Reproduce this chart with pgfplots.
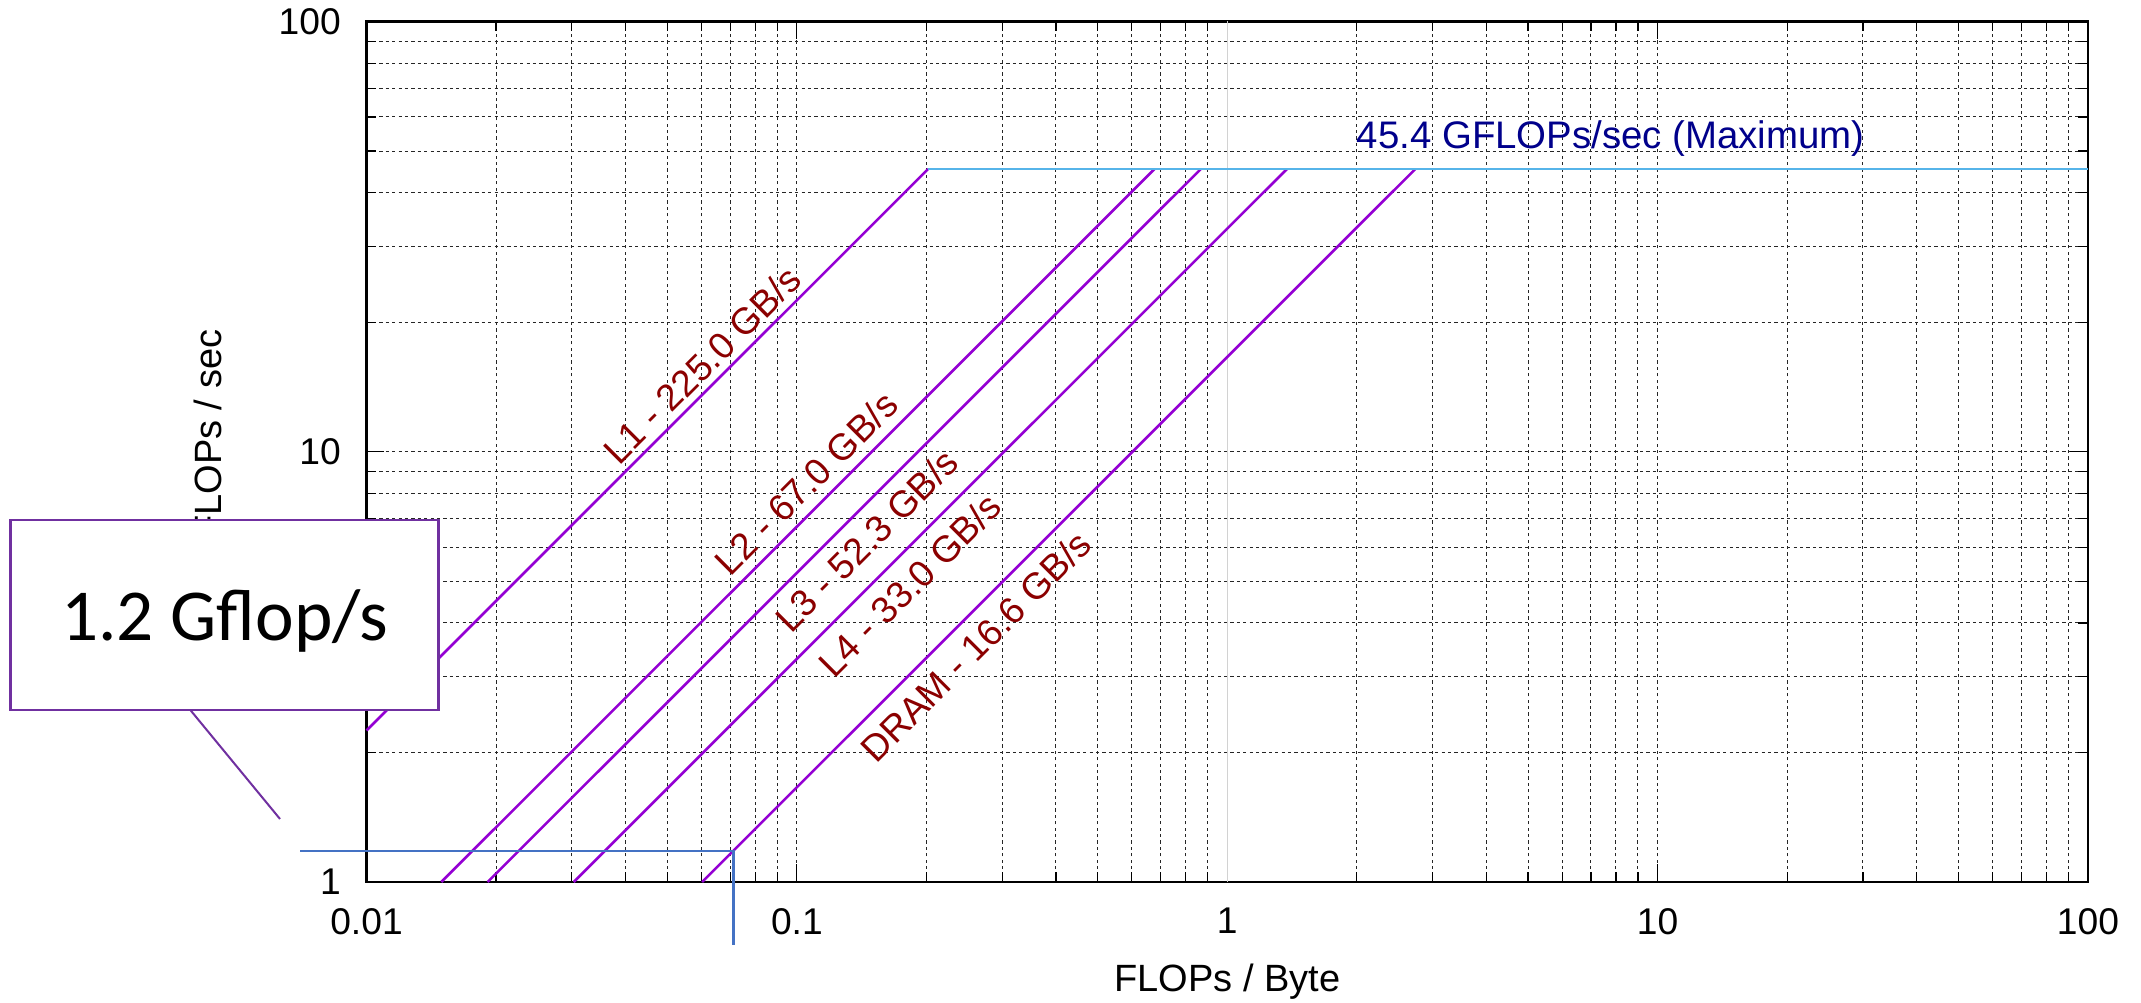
\documentclass[border=0pt]{standalone}
\usepackage{pgfplots}
\pgfplotsset{compat=1.18}
\usepackage{fontspec}
\setmainfont{Liberation Sans}
\newfontfamily\calibri{Carlito}
\definecolor{roof}{HTML}{9400D3}
\definecolor{peak}{HTML}{56B4E9}
\definecolor{lab}{HTML}{8B0000}
\definecolor{peaklab}{HTML}{00008B}
\definecolor{callout}{HTML}{7030A0}
\definecolor{probe}{HTML}{4472C4}
\newcommand{\lblfont}{\fontsize{9.3}{11}\selectfont}
\begin{document}
\begin{tikzpicture}
\begin{axis}[
  xmode=log, ymode=log,
  width=430.375pt, height=215.125pt, scale only axis,
  xmin=0.01, xmax=100, ymin=1, ymax=100,
  xtick={0.01,0.1,1,10,100}, xticklabels={0.01,0.1,1,10,100},
  ytick={1,10,100}, yticklabels={1,10,100},
  minor xtick={0.02,0.03,0.04,0.05,0.06,0.07,0.08,0.09,0.2,0.3,0.4,0.5,0.6,0.7,0.8,0.9,2,3,4,5,6,7,8,9,20,30,40,50,60,70,80,90},
  minor ytick={2,3,4,5,6,7,8,9,20,30,40,50,60,70,80,90},
  grid=both,
  major grid style={black!85, line width=0.25pt, dash pattern=on 0.8pt off 0.8pt},
  minor grid style={black!85, line width=0.25pt, dash pattern=on 0.8pt off 0.8pt},
  tick align=inside,
  major tick length=4.5pt, minor tick length=2.5pt,
  every tick/.style={black, line width=0.3pt},
  axis line style={line width=0.6pt},
  xticklabel style={font=\lblfont, yshift=-3pt},
  yticklabel style={font=\lblfont, xshift=-2.9pt},
  xlabel={FLOPs / Byte}, ylabel={GFLOPs / sec},
  xlabel style={at={(axis description cs:0.5,-0.1267)}, anchor=base, font=\fontsize{9.5}{11}\selectfont},
  ylabel style={at={(axis description cs:-0.0841,0.503)}, anchor=base, font=\fontsize{9.5}{11}\selectfont},
  clip=false,
]
\addplot[gray!35, line width=0.3pt] coordinates {(1,1) (1,100)};
\addplot[roof, line width=0.65pt] coordinates {(0.01,2.25) (0.20178,45.4)};
\addplot[roof, line width=0.65pt] coordinates {(0.014925,1) (0.67761,45.4)};
\addplot[roof, line width=0.65pt] coordinates {(0.019120,1) (0.86807,45.4)};
\addplot[roof, line width=0.65pt] coordinates {(0.030303,1) (1.37576,45.4)};
\addplot[roof, line width=0.65pt] coordinates {(0.060241,1) (2.73494,45.4)};
\addplot[peak, line width=0.65pt] coordinates {(0.20178,45.4) (100,45.4)};
\addplot[probe, line width=0.6pt] coordinates {(0.007025,1.182) (0.07119,1.182) (0.07119,0.7139)};
\node[rotate=45, text=lab, font=\lblfont] at (axis cs:0.06018,15.91) {L1 - 225.0 GB/s};
\node[rotate=45, text=lab, font=\lblfont] at (axis cs:0.10500,8.461) {L2 - 67.0 GB/s};
\node[rotate=45, text=lab, font=\lblfont] at (axis cs:0.14530,6.222) {L3 - 52.3 GB/s};
\node[rotate=45, text=lab, font=\lblfont] at (axis cs:0.18287,4.901) {L4 - 33.0 GB/s};
\node[rotate=45, text=lab, font=\lblfont] at (axis cs:0.26020,3.530) {DRAM - 16.6 GB/s};
\node[anchor=base west, inner sep=0pt, text=peaklab, font=\fontsize{9.6}{11}\selectfont] at (axis cs:1.9913,50.8) {45.4 GFLOPs/sec (Maximum)};
\coordinate (cl1) at (axis description cs:-0.10427,0.20453);
\coordinate (cl2) at (axis description cs:-0.05025,0.07321);
\coordinate (bxa) at (axis description cs:-0.20668,0.42069);
\coordinate (bxb) at (axis description cs:0.04194,0.19988);
\coordinate (bxt) at (axis description cs:-0.08237,0.2812);
\coordinate (bba) at (axis description cs:-0.21290,-0.14062);
\coordinate (bbb) at (axis description cs:1.03079,1.02499);
\end{axis}
\draw[callout, line width=0.5pt] (cl1) -- (cl2);
\draw[callout, line width=0.7pt, fill=white] (bxa) rectangle (bxb);
\node[anchor=base, inner sep=0pt, font=\calibri\fontsize{18.3}{22}\selectfont] at (bxt) {1.2 Gflop/s};
\pgfresetboundingbox
\path[use as bounding box] (bba) rectangle (bbb);
\end{tikzpicture}
\end{document}
